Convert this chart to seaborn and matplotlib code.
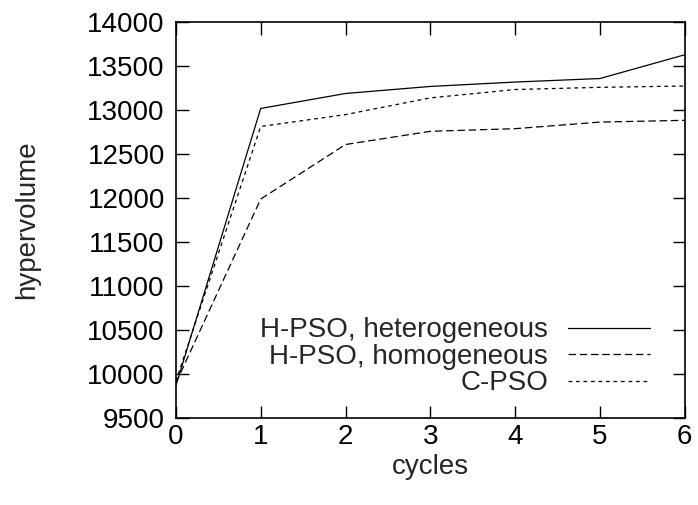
import matplotlib
matplotlib.use("Agg")
import matplotlib.pyplot as plt
import numpy as np
import pandas as pd
import seaborn as sns

cycles = [0, 1, 2, 3, 4, 5, 6]
het = [9870, 13020, 13190, 13270, 13320, 13360, 13630]
hom = [9900, 11990, 12610, 12760, 12790, 12865, 12885]
cpso = [9920, 12815, 12950, 13140, 13235, 13260, 13275]
series_names = ["H-PSO, heterogeneous", "H-PSO, homogeneous", "C-PSO"]

df = pd.DataFrame({
    "cycles": cycles * 3,
    "hypervolume": het + hom + cpso,
    "serie": [series_names[0]] * 7 + [series_names[1]] * 7 + [series_names[2]] * 7,
})

sns.set_style("ticks")
plt.rcParams["font.family"] = ["Liberation Sans", "DejaVu Sans"]
fs = 20

fig = plt.figure(figsize=(6.98, 5.05), dpi=100)
ax = fig.add_axes([0.252, 0.172, 0.729, 0.784])

sns.lineplot(
    data=df, x="cycles", y="hypervolume", hue="serie", style="serie",
    palette=["black"] * 3,
    dashes={series_names[0]: "", series_names[1]: (6, 3), series_names[2]: (3, 3)},
    linewidth=0.9, ax=ax,
)

ax.set_xlim(0, 6)
ax.set_ylim(9500, 14000)
ax.set_xticks(np.arange(0, 7, 1))
ax.set_yticks(np.arange(9500, 14001, 500))
ax.tick_params(direction="in", length=9, width=1, top=True, right=True,
               labelsize=fs, colors="black")
ax.tick_params(axis="x", pad=4)
ax.tick_params(axis="y", pad=8)
for s in ax.spines.values():
    s.set_linewidth(1.2)
    s.set_color("black")

ax.set_xlabel("cycles", fontsize=fs, labelpad=3)
ax.set_ylabel("hypervolume", fontsize=fs, labelpad=34)

leg = ax.legend(loc="lower right", bbox_to_anchor=(0.931, 0.055), frameon=False,
                markerfirst=False, fontsize=fs, handlelength=2.95,
                handletextpad=0.7, labelspacing=0.02,
                borderpad=0, borderaxespad=0)
for t in leg.get_texts():
    t.set_ha("right")

fig.savefig("out.png", dpi=100)
